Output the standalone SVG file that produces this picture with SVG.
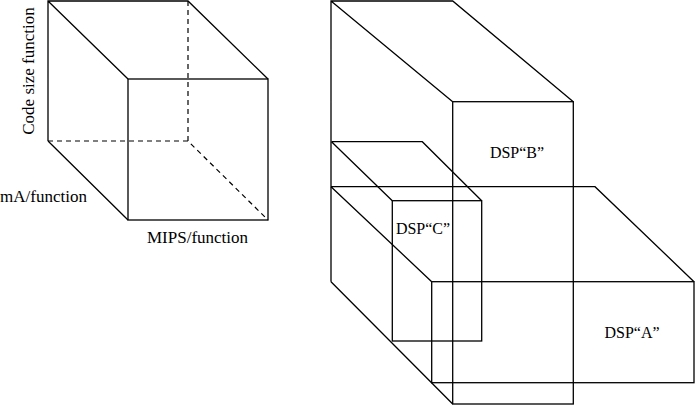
<svg xmlns="http://www.w3.org/2000/svg" width="695" height="405" viewBox="0 0 695 405">
<style>
.s{fill:none;stroke:#000;stroke-width:1.3}
.d{fill:none;stroke:#000;stroke-width:1.2;stroke-dasharray:5,4}
.t{font-family:"Liberation Serif",serif;font-size:17px;fill:#000}
.l{font-family:"Liberation Serif",serif;font-size:16px;fill:#000;text-anchor:middle}
</style>
<rect width="695" height="405" fill="#fff"/>
<g id="cube">
<path class="d" d="M188,1V141M48,141H188L268,220"/>
<path class="s" d="M48,141V1H188L268,79M48,1L128,79M48,141L128,220"/>
<rect class="s" x="128" y="79" width="140" height="141"/>
<text class="t" transform="translate(34,71) rotate(-90)" text-anchor="middle">Code size function</text>
<text class="t" x="0" y="202">mA/function</text>
<text class="t" x="147" y="243">MIPS/function</text>
</g>
<g id="dspB">
<path class="s" d="M331,281.7V1H452.7L573.3,101.7M331,1L452.7,101.7M331,281.7L452.7,404"/>
<rect class="s" x="452.7" y="101.7" width="120.6" height="302.3"/>
<text class="l" x="517" y="158">DSP“B”</text>
</g>
<g id="dspC">
<path class="s" d="M331.5,141.7H422.3L481.7,200.7M331.5,141.7L392.3,200.7"/>
<rect class="s" x="392.3" y="200.7" width="89.4" height="140.3"/>
<text class="l" x="423" y="234">DSP“C”</text>
</g>
<g id="dspA">
<path class="s" d="M331,186.7H595L694,281.7M331,186.7L431.7,281.7"/>
<rect class="s" x="431.7" y="281.7" width="262.3" height="101"/>
<text class="l" x="632" y="338">DSP“A”</text>
</g>
<g id="connectors"/>
</svg>
